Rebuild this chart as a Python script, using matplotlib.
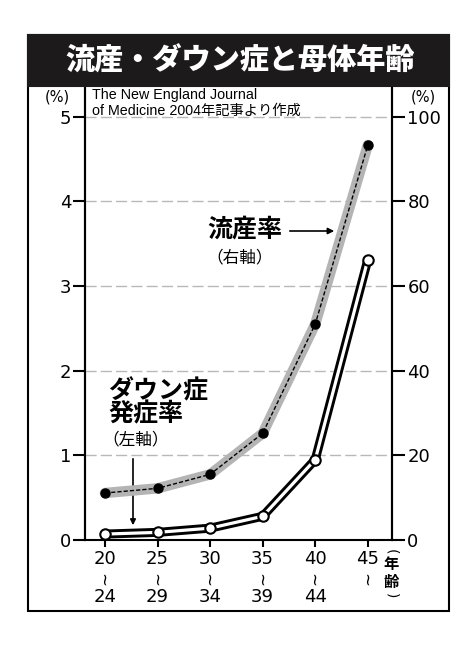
import matplotlib.pyplot as plt
import matplotlib.transforms as mtransforms
from matplotlib.patches import Rectangle

plt.rcParams['font.family'] = ['DejaVu Sans', 'Noto Sans CJK JP']

# data
age_start = ['20', '25', '30', '35', '40', '45']
age_end = ['24', '29', '34', '39', '44', '']
miscarriage = [11.1, 12.2, 15.5, 25.2, 51.0, 93.3]   # % (right axis)
down_rate = [0.07, 0.09, 0.14, 0.28, 0.95, 3.31]     # % (left axis)
left_ticks = [0, 1, 2, 3, 4, 5]
right_ticks = [0, 20, 40, 60, 80, 100]

W, H = 475, 648
def fx(px):
    return px / W
def fy(py):
    return 1 - py / H

cjk = ['Noto Sans CJK JP', 'DejaVu Sans']

fig = plt.figure(figsize=(W / 100, H / 100), dpi=100)

# frame and title bar
fig.patches.append(Rectangle((fx(28), fy(611)), fx(449) - fx(28), (611 - 35) / H,
                             fill=False, ec='black', lw=1.5, transform=fig.transFigure))
fig.patches.append(Rectangle((fx(28), fy(86)), fx(449) - fx(28), (86 - 35) / H,
                             fc='#1c1a1a', ec='#1c1a1a', lw=1.5, transform=fig.transFigure))
fig.text(fx(240), fy(61), '流産・ダウン症と母体年齢', color='white', fontsize=21,
         fontweight='heavy', family=cjk, ha='center', va='center')

ax = fig.add_axes([fx(85), fy(540), fx(392) - fx(85), (540 - 87) / H])
x = list(range(len(age_start)))
ax.set_xlim(-0.38, 5.46)
ax.set_ylim(0, 5.35)
ax2 = ax.twinx()
ax2.set_ylim(0, 107)

for a in (ax, ax2):
    a.spines['top'].set_visible(False)
    for s in ('left', 'right', 'bottom'):
        a.spines[s].set_linewidth(1.5)
ax2.spines['bottom'].set_visible(False)

ax.set_yticks(left_ticks)
ax.tick_params(axis='y', direction='out', length=9, width=1.5, labelsize=13, pad=1)
ax2.set_yticks(right_ticks)
ax2.tick_params(axis='y', direction='out', length=9, width=1.5, labelsize=13, pad=2)
ax.set_xticks(x)
ax.tick_params(axis='x', direction='out', length=5, width=1.5, labelbottom=False)

ax.grid(axis='y', ls=(0, (8, 3)), color='#b8b8b8', lw=1)
ax.set_axisbelow(True)

# down syndrome line: white with black outline
ax.plot(x, down_rate, color='black', lw=6.5, solid_capstyle='round',
        solid_joinstyle='round', clip_on=False, zorder=3)
ax.plot(x, down_rate, color='white', lw=2.3, marker='o', ms=7.5, mfc='white',
        mec='black', mew=1.5, solid_capstyle='round', clip_on=False, zorder=4)

# miscarriage line: gray band with dashed black core
ax2.plot(x, miscarriage, color='#b4b4b4', lw=7.5, solid_capstyle='round',
         solid_joinstyle='round', zorder=2)
ax2.plot(x, miscarriage, color='black', lw=1, ls=(0, (3, 1.5)), marker='o',
         ms=6.5, mfc='black', mec='black', zorder=3)

# x tick labels
bt = mtransforms.blended_transform_factory(ax.transData, fig.transFigure)
for i in x:
    ax.text(i, fy(559), age_start[i], transform=bt, ha='center', va='center', fontsize=13)
    ax.text(i, fy(578), '~', transform=bt, ha='center', va='center', fontsize=12,
            rotation=90)
    if age_end[i]:
        ax.text(i, fy(597), age_end[i], transform=bt, ha='center', va='center', fontsize=13)
# vertical unit label (年齢)
fig.text(fx(391), fy(552), '(', fontsize=10, rotation=-90, ha='center', va='center')
fig.text(fx(391), fy(564), '年', family=cjk, fontsize=11, fontweight='bold',
         ha='center', va='center')
fig.text(fx(391), fy(582), '齢', family=cjk, fontsize=11, fontweight='bold',
         ha='center', va='center')
fig.text(fx(391), fy(596), ')', fontsize=10, rotation=-90, ha='center', va='center')

# axis unit labels
fig.text(fx(57), fy(97), '(%)', fontsize=10.5, ha='center', va='center')
fig.text(fx(423), fy(97), '(%)', fontsize=10.5, ha='center', va='center')

# source
fig.text(fx(92), fy(95), 'The New England Journal', fontsize=10.3, ha='left',
         va='center', family=['Liberation Sans', 'Noto Sans CJK JP'])
fig.text(fx(92), fy(111), 'of Medicine 2004年記事より作成', fontsize=10.3, ha='left',
         va='center', family=['Liberation Sans', 'Noto Sans CJK JP'])

# annotations
fig.text(fx(207), fy(230), '流産率', family=cjk, fontsize=18, fontweight='bold',
         ha='left', va='center')
fig.text(fx(206), fy(258), '（右軸）', family=cjk, fontsize=12, ha='left', va='center')
ax.annotate('', xy=(fx(337), fy(231)), xytext=(fx(287), fy(231)),
            xycoords='figure fraction', textcoords='figure fraction',
            arrowprops=dict(arrowstyle='-|>', color='black', lw=1.2, mutation_scale=9))

fig.text(fx(108), fy(391), 'ダウン症', family=cjk, fontsize=18, fontweight='bold',
         ha='left', va='center')
fig.text(fx(108), fy(414), '発症率', family=cjk, fontsize=18, fontweight='bold',
         ha='left', va='center')
fig.text(fx(102), fy(440), '（左軸）', family=cjk, fontsize=12, ha='left', va='center')
ax.annotate('', xy=(fx(133), fy(528)), xytext=(fx(133), fy(456)),
            xycoords='figure fraction', textcoords='figure fraction',
            arrowprops=dict(arrowstyle='-|>', color='black', lw=1.2, mutation_scale=8))

fig.savefig('out.png', dpi=100)
